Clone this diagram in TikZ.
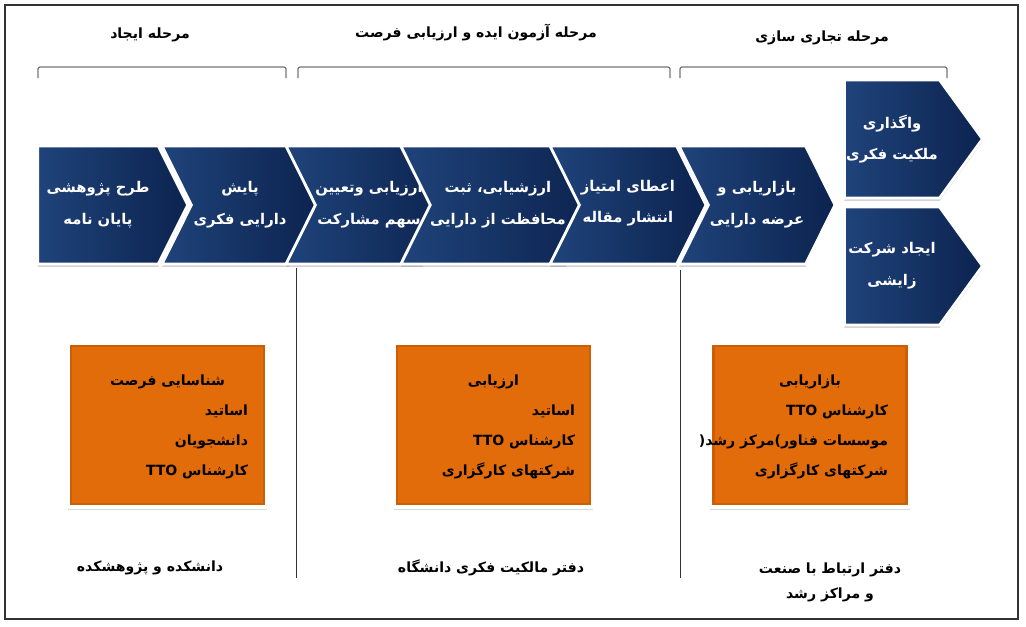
\documentclass[tikz,border=0pt]{standalone}
\usepackage{fontspec}
\usepackage{tikz}
\usetikzlibrary{shapes.symbols,shadows}
\newfontfamily\farsi[Script=Arabic]{DejaVu Sans}
\TeXXeTstate=1
\newcommand{\fatext}[1]{{\farsi\bfseries\beginR #1\endR}}
\definecolor{navyL}{HTML}{1F437A}
\definecolor{navyD}{HTML}{0C234F}
\definecolor{actorO}{HTML}{E36C0A}
\definecolor{actorD}{HTML}{CC5E06}

\begin{document}
\begin{tikzpicture}[x=0.025cm, y=-0.025cm,
  chev/.style={shape=signal, signal to=east, signal from=west, signal pointer angle=127,
    minimum width=3.9cm, minimum height=2.95cm, inner sep=0pt,
    left color=navyL, right color=navyD, draw=white, line width=2pt,
    text=white, align=center, font=\fontsize{10.5}{22.5}\selectfont,
    drop shadow={opacity=0.35, shadow xshift=0pt, shadow yshift=-2pt}},
  firstchev/.style={chev, signal from=nowhere, minimum width=3.75cm},
  handover/.style={chev, signal from=nowhere, signal pointer angle=108, minimum width=3.45cm},
  actor/.style={draw=white, line width=2.5pt, fill=actorO,
    minimum width=4.975cm, minimum height=4.1cm,
    path picture={\draw[actorD, line width=6pt] (path picture bounding box.south west) rectangle (path picture bounding box.north east);},
    drop shadow={opacity=0.3, shadow xshift=0pt, shadow yshift=-2pt}},
  actortitle/.style={font=\fontsize{10}{12}\selectfont},
  actorlist/.style={anchor=north east, align=right, font=\fontsize{10}{21.3}\selectfont},
  phase/.style={font=\fontsize{10}{12}\selectfont},
  office/.style={align=center, font=\fontsize{10}{17.5}\selectfont}]
\useasboundingbox (0,0) rectangle (1026,626);
\draw[line width=1pt, black!80] (5,5) rectangle (1018,619);

% phases
\node[phase] (ph1) at (150,35) {\fatext{مرحله ایجاد}};
\node[phase] (ph2) at (476,32) {\fatext{مرحله آزمون ایده و ارزیابی فرصت}};
\node[phase] (ph3) at (822,38) {\fatext{مرحله\char"A0 تجاری سازی}};
\draw[rounded corners=1pt] (38,78) -- (38,67) -- (286,67) -- (286,78);
\draw[rounded corners=1pt] (298,78) -- (298,67) -- (670,67) -- (670,78);
\draw[rounded corners=1pt] (680,78) -- (680,67) -- (947,67) -- (947,78);

% chevrons
\node[firstchev] (c1) at (98,205) {\fatext{طرح پژوهشی}\\\fatext{پایان نامه}};
\node[chev] (c2) at (240,205) {\fatext{پایش}\\\fatext{دارایی فکری}};
\node[chev] (c3) at (369,205) {\fatext{ارزیابی وتعیین}\\\fatext{سهم\char"A0 مشارکت}};
\node[chev] (c4) at (498,205) {\fatext{ارزشیابی، ثبت}\\\fatext{محافظت از دارایی}};
\node[chev] (c5) at (628,205) {\raisebox{5pt}{\fatext{اعطای امتیاز}}\\\raisebox{5pt}{\fatext{انتشار مقاله}}};
\node[chev] (c6) at (757,205) {\fatext{بازاریابی و}\\\fatext{عرضه دارایی}};
\node[handover] (p1) at (892,139) {\fatext{واگذاری}\\\fatext{ملکیت فکری}};
\node[handover] (p2) at (892,266) {\fatext{ایجاد شرکت}\\\fatext{زایشی}};

% separators
\draw[black!80] (296,268) -- (296,578);
\draw[black!80] (680,270) -- (680,578);

% actors
\node[actor] (a1) at (167.5,425) {};
\node[actor] (a2) at (493.5,425) {};
\node[actor] (a3) at (810,425) {};
\node[actortitle] at (a1.center |- 0,382) {\fatext{شناسایی فرصت}};
\node[actorlist] at (253,400) {\fatext{اساتید}\\\fatext{دانشجویان}\\\fatext{کارشناس TTO}};
\node[actortitle] at (a2.center |- 0,382) {\fatext{ارزیابی}};
\node[actorlist] at (580,400) {\fatext{اساتید}\\\fatext{کارشناس TTO}\\\fatext{شرکتهای کارگزاری}};
\node[actortitle] at (a3.center |- 0,382) {\fatext{بازاریابی}};
\node[actorlist] at (893,400) {\fatext{کارشناس TTO}\\{\farsi\bfseries (}\fatext{مرکز رشد}{\farsi\bfseries )}\fatext{موسسات فناور}\\\fatext{شرکتهای کارگزاری}};

% offices
\node[office] (o1) at (150,568) {\fatext{دانشکده و پژوهشکده}};
\node[office] (o2) at (491,568) {\fatext{دفتر مالکیت فکری دانشگاه}};
\node[office, anchor=north] (o3) at (830,558) {\fatext{دفتر ارتباط با صنعت}\\\fatext{و مراکز رشد}};
\end{tikzpicture}
\end{document}
